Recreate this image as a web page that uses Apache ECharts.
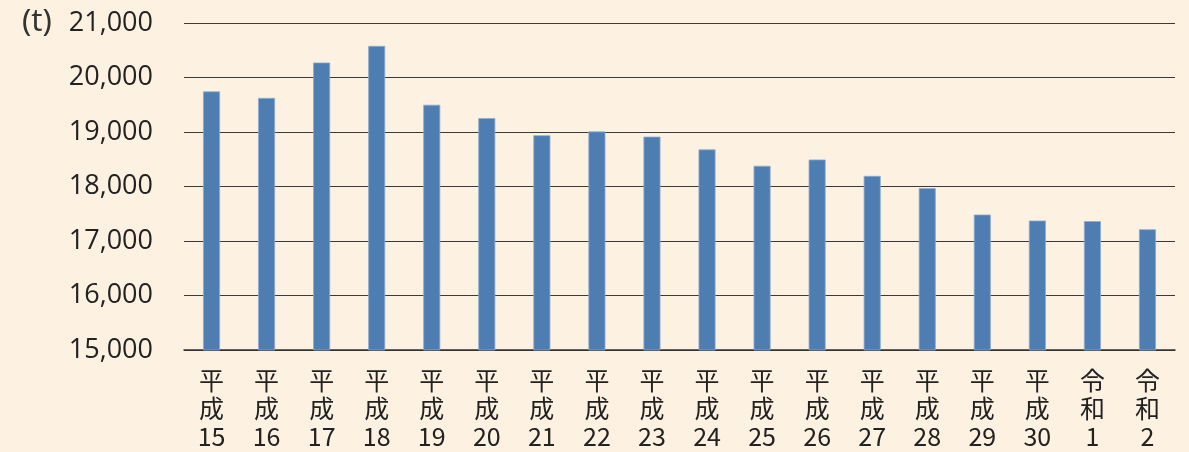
<!DOCTYPE html>
<html>
<head>
<meta charset="utf-8">
<script src="https://cdn.jsdelivr.net/npm/echarts@6/dist/echarts.min.js"></script>
<style>
html,body{margin:0;padding:0;background:#FDF1E2;}
#c{width:1189px;height:452px;}
</style>
</head>
<body>
<div id="c"></div>
<script>
const eras = ['平成','平成','平成','平成','平成','平成','平成','平成','平成','平成','平成','平成','平成','平成','平成','平成','令和','令和'];
const years = ['15','16','17','18','19','20','21','22','23','24','25','26','27','28','29','30','1','2'];
const values = [19745, 19625, 20275, 20580, 19500, 19255, 18940, 19010, 18915, 18680, 18380, 18495, 18195, 17970, 17485, 17375, 17365, 17215];
const yTicks = [15000, 16000, 17000, 18000, 19000, 20000, 21000];
const unitLabel = '(t)';

const categories = eras.map((e, i) => e.split('').join('\n') + '\n' + years[i]);

const chart = echarts.init(document.getElementById('c'), null, {renderer: 'canvas'});
chart.setOption({
  backgroundColor: '#FDF1E2',
  animation: false,
  grid: {left: 184, right: 14, top: 23, bottom: 102, containLabel: false},
  xAxis: {
    type: 'category',
    data: categories,
    axisTick: {show: false},
    axisLine: {lineStyle: {color: '#333', width: 1.5}},
    axisLabel: {
      interval: 0, margin: 16, color: '#222',
      fontFamily: '"Noto Sans CJK JP"', fontSize: 25, lineHeight: 28
    }
  },
  yAxis: {
    type: 'value',
    name: unitLabel,
    nameLocation: 'end',
    nameGap: -15,
    nameTextStyle: {fontSize: 31, fontFamily: 'Noto Sans', color: '#333', align: 'left', padding: [0, 0, 0, -162]},
    min: yTicks[0], max: yTicks[yTicks.length - 1], interval: 1000,
    axisLine: {show: false},
    axisTick: {show: false},
    splitLine: {lineStyle: {color: '#3a3a3a', width: 1.2}},
    axisLabel: {
      margin: 31, color: '#222', fontFamily: '"Open Sans"', fontSize: 27,
      formatter: v => v.toLocaleString('en-US')
    }
  },
  series: [{
    type: 'bar',
    data: values,
    barWidth: 17,
    itemStyle: {color: '#4E7DB2', borderColor: '#8FAAD0', borderWidth: 0.8}
  }]
});
</script>
</body>
</html>
